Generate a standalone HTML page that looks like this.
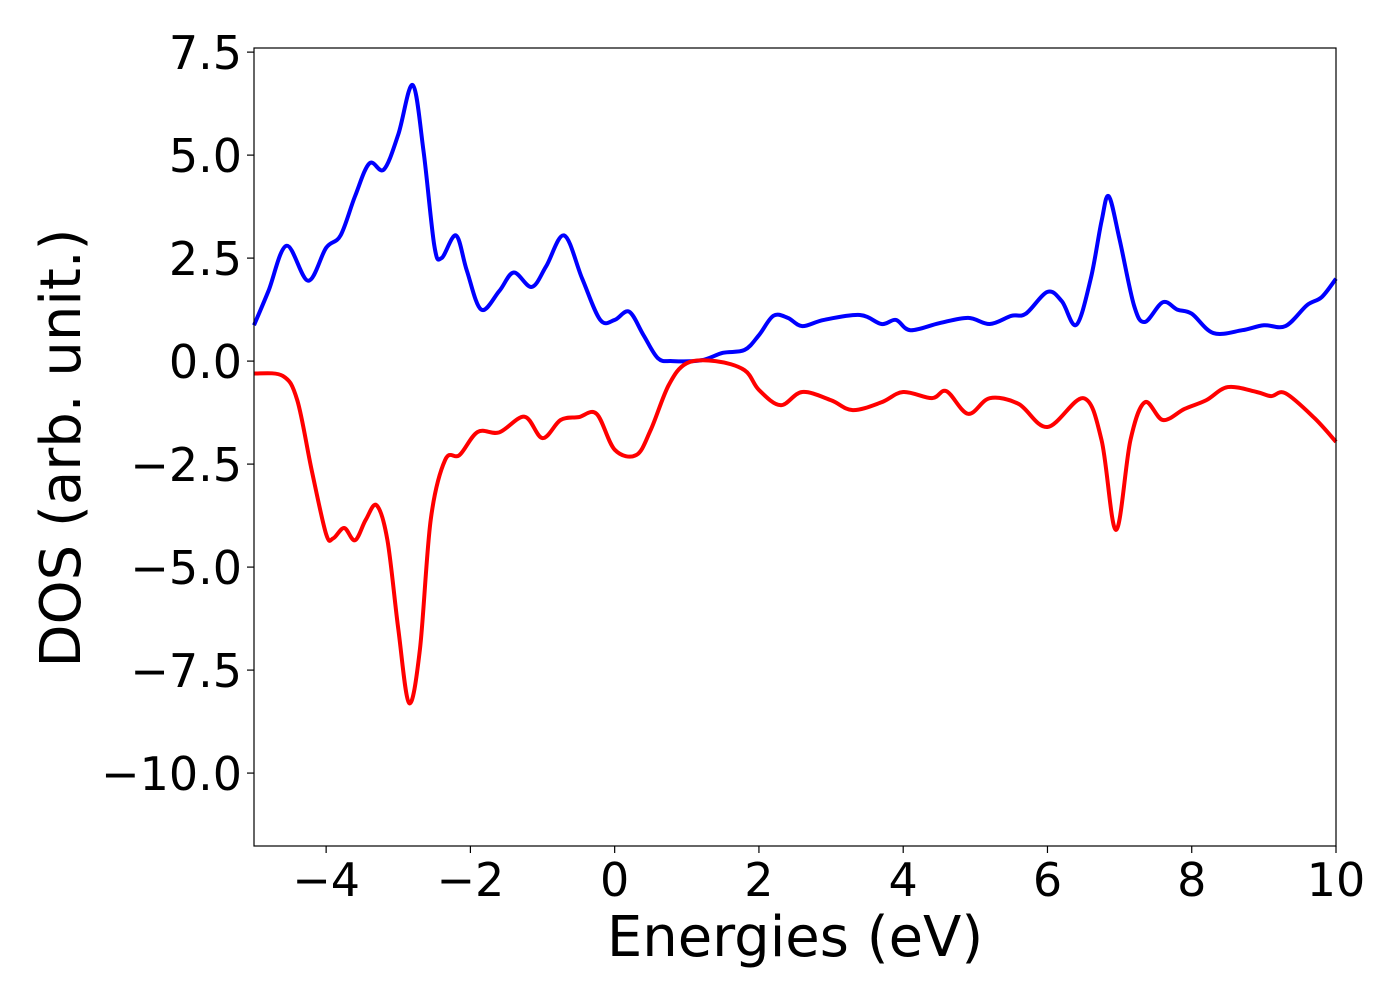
<!DOCTYPE html>
<html><head><meta charset="utf-8"><style>
body{margin:0;background:#fff;}
svg text{font-family:"DejaVu Sans","Liberation Sans",sans-serif;fill:#000;}
</style></head><body>
<svg id="chart" width="1400" height="1000" xmlns="http://www.w3.org/2000/svg">
<g id="plot"></g>
<rect x="254" y="48" width="1082" height="798" fill="none" stroke="#000" stroke-width="1.2"/>
<g id="xticks"></g>
<g id="yticks"></g>
<text x="795" y="956" font-size="56" text-anchor="middle">Energies (eV)</text>
<text transform="translate(80,448) rotate(-90)" font-size="56" text-anchor="middle">DOS (arb. unit.)</text>
</svg>
<script>
const upX=[-5,-4.8,-4.55,-4.25,-4.0,-3.8,-3.6,-3.4,-3.2,-3.0,-2.8,-2.65,-2.5,-2.4,-2.2,-2.05,-1.85,-1.6,-1.4,-1.15,-0.95,-0.7,-0.45,-0.2,0.0,0.2,0.4,0.6,0.8,1.2,1.5,1.8,2.0,2.2,2.4,2.6,2.9,3.4,3.7,3.9,4.1,4.5,4.9,5.2,5.5,5.7,6.0,6.2,6.4,6.6,6.75,6.85,7.0,7.2,7.35,7.6,7.8,8.0,8.3,8.7,9.0,9.3,9.6,9.8,10];
const upY=[0.87,1.7,2.8,1.95,2.75,3.05,4.0,4.8,4.65,5.5,6.7,5.1,2.8,2.5,3.05,2.2,1.25,1.7,2.15,1.8,2.3,3.05,2.0,1.0,1.0,1.2,0.63,0.07,0,0.02,0.2,0.27,0.63,1.1,1.05,0.85,1.0,1.12,0.9,1.0,0.75,0.92,1.05,0.9,1.1,1.15,1.68,1.45,0.88,2.0,3.4,4.0,2.95,1.35,0.95,1.43,1.25,1.15,0.68,0.75,0.87,0.85,1.36,1.55,2.0];
const dnX=[-5,-4.6,-4.4,-4.2,-4.0,-3.9,-3.75,-3.6,-3.45,-3.3,-3.15,-3.0,-2.85,-2.7,-2.55,-2.35,-2.15,-1.9,-1.6,-1.25,-1.0,-0.75,-0.5,-0.25,0.0,0.3,0.5,0.75,1.0,1.4,1.8,2.0,2.3,2.6,3.0,3.3,3.7,4.0,4.4,4.6,4.9,5.2,5.6,6.0,6.5,6.75,6.95,7.15,7.35,7.6,7.9,8.2,8.5,8.9,9.1,9.3,9.7,10];
const dnY=[-0.3,-0.36,-0.95,-2.65,-4.2,-4.3,-4.05,-4.35,-3.85,-3.5,-4.35,-6.5,-8.3,-7.0,-3.85,-2.4,-2.28,-1.72,-1.73,-1.35,-1.87,-1.43,-1.36,-1.28,-2.15,-2.28,-1.67,-0.58,-0.05,0,-0.22,-0.7,-1.07,-0.75,-0.95,-1.19,-1.0,-0.75,-0.9,-0.73,-1.28,-0.9,-1.04,-1.6,-0.9,-1.92,-4.1,-1.92,-1.0,-1.43,-1.16,-0.95,-0.63,-0.75,-0.85,-0.78,-1.38,-1.96];
const xTicks=[-4,-2,0,2,4,6,8,10];
const xTickLabels=["\u22124","\u22122","0","2","4","6","8","10"];
const yTicks=[-10,-7.5,-5,-2.5,0,2.5,5,7.5];
const yTickLabels=["\u221210.0","\u22127.5","\u22125.0","\u22122.5","0.0","2.5","5.0","7.5"];

const L=254,R=1336,T=48,B=846,xMin=-5,xMax=10,yMin=-11.77,yMax=7.6;
const sx=v=>L+(v-xMin)/(xMax-xMin)*(R-L);
const sy=v=>B-(v-yMin)/(yMax-yMin)*(B-T);
const NS="http://www.w3.org/2000/svg";
function mk(tag,attrs,parent){const e=document.createElementNS(NS,tag);for(const k in attrs)e.setAttribute(k,attrs[k]);parent.appendChild(e);return e;}
function smooth(xs,ys){
  const p=xs.map((x,i)=>[sx(x),sy(ys[i])]);
  let d="M"+p[0][0]+","+p[0][1];
  for(let i=0;i<p.length-1;i++){
    const p0=p[Math.max(0,i-1)],p1=p[i],p2=p[i+1],p3=p[Math.min(p.length-1,i+2)];
    const c1=[p1[0]+(p2[0]-p0[0])/6,p1[1]+(p2[1]-p0[1])/6];
    const c2=[p2[0]-(p3[0]-p1[0])/6,p2[1]-(p3[1]-p1[1])/6];
    d+=` C${c1[0]},${c1[1]} ${c2[0]},${c2[1]} ${p2[0]},${p2[1]}`;
  }
  return d;
}
const plot=document.getElementById('plot');
const up=mk('path',{d:smooth(upX,upY),fill:'none',stroke:'#0000ff','stroke-width':4,'stroke-linejoin':'round'},plot);


const dn=mk('path',{d:smooth(dnX,dnY),fill:'none',stroke:'#ff0000','stroke-width':4,'stroke-linejoin':'round'},plot);


const xg=document.getElementById('xticks');
xTicks.forEach((v,i)=>{
  const t=mk('line',{x1:sx(v),x2:sx(v),y1:B,y2:B+7,stroke:'#000','stroke-width':1.2},xg);
  
  
  const l=mk('text',{x:sx(v),y:B+50,'font-size':46,'text-anchor':'middle'},xg);
  l.textContent=xTickLabels[i];
  
  
});
const yg=document.getElementById('yticks');
yTicks.forEach((v,i)=>{
  const t=mk('line',{x1:L-7,x2:L,y1:sy(v),y2:sy(v),stroke:'#000','stroke-width':1.2},yg);
  
  
  const l=mk('text',{x:L-12,y:sy(v)+17,'font-size':46,'text-anchor':'end'},yg);
  l.textContent=yTickLabels[i];
  
  
});
</script>
</body></html>
